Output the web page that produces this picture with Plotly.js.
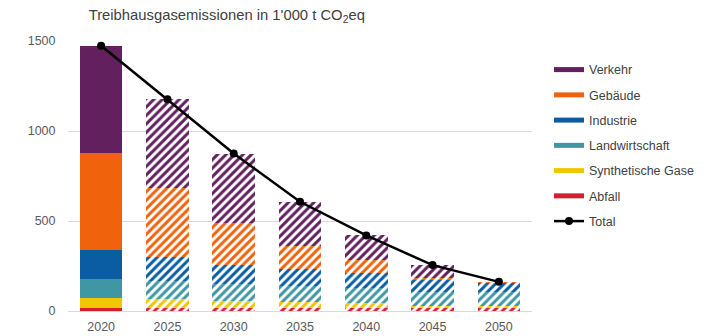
<!DOCTYPE html>
<html>
<head>
<meta charset="utf-8">
<script src="https://cdn.plot.ly/plotly-3.0.1.min.js"></script>
<style>
  html, body { margin: 0; padding: 0; background: #ffffff; }
  #chart { width: 718px; height: 336px; }
</style>
</head>
<body>
<div id="chart"></div>
<script>
// Greenhouse gas emissions by sector, in 1'000 t CO2eq
const years = ['2020', '2025', '2030', '2035', '2040', '2045', '2050'];

const abfall          = [18, 18, 18, 18, 18, 18, 18];
const synthetischeGase = [55, 50, 36, 31, 24, 11, 10];
const landwirtschaft  = [103, 97, 98, 92, 87, 76, 80];
const industrie       = [163, 133, 106, 93, 83, 70, 46];
const gebaeude        = [541, 387, 229, 125, 74, 10, 5];
const verkehr         = [594, 492, 388, 248, 134, 70, 3];
const total           = [1474, 1177, 875, 607, 420, 255, 162];

// stacked from the bottom up
const sectors = [
  { name: 'Abfall',            values: abfall,           color: '#d41f33' },
  { name: 'Synthetische Gase', values: synthetischeGase, color: '#efc600' },
  { name: 'Landwirtschaft',    values: landwirtschaft,   color: '#3f97a3' },
  { name: 'Industrie',         values: industrie,        color: '#0a5da3' },
  { name: 'Gebäude',           values: gebaeude,         color: '#f0630c' },
  { name: 'Verkehr',           values: verkehr,          color: '#62205f' }
];

// first year is measured (solid), later years are projections (hatched)
const shapes = years.map((y, i) => i === 0 ? '' : '/');

const traces = [];
sectors.forEach(s => {
  traces.push({
    type: 'bar',
    x: years,
    y: s.values,
    name: s.name,
    showlegend: false,
    marker: {
      color: s.color,
      line: { width: 0 },
      pattern: { shape: shapes, fgcolor: s.color, bgcolor: '#ffffff', size: 6, solidity: 0.5, fillmode: 'replace' }
    },
    hoverinfo: 'x+y+name'
  });
});

// legend entries drawn as thick strokes, top sector first
sectors.slice().reverse().forEach((s, k) => {
  traces.push({
    type: 'scatter',
    mode: 'lines',
    x: [null],
    y: [null],
    name: s.name,
    legendgroup: 'g' + k,
    line: { color: s.color, width: 5 },
    hoverinfo: 'skip'
  });
});

traces.push({
  type: 'scatter',
  mode: 'lines+markers',
  x: years,
  y: total,
  name: 'Total',
  legendgroup: 'gt',
  line: { color: '#000000', width: 2.5 },
  marker: { color: '#000000', size: 8 },
  cliponaxis: false
});

const layout = {
  width: 718,
  height: 336,
  margin: { l: 68, r: 186, t: 41, b: 24.5 },
  paper_bgcolor: '#ffffff',
  plot_bgcolor: '#ffffff',
  barmode: 'stack',
  bargap: 0.356,
  font: { family: 'Liberation Sans, Arial, sans-serif', color: '#595959', size: 12.5 },
  title: {
    text: "Treibhausgasemissionen in 1'000 t CO<sub>2</sub>eq",
    font: { size: 14.8, color: '#404040' },
    x: 32 / 718,
    xanchor: 'left',
    xref: 'paper',
    y: 1 - 15 / 336,
    yanchor: 'middle'
  },
  xaxis: {
    type: 'category',
    showgrid: false,
    showline: true,
    linecolor: '#d9d9d9',
    linewidth: 1,
    ticks: 'outside',
    ticklen: 4,
    tickcolor: 'rgba(0,0,0,0)',
    tickfont: { size: 12.5, color: '#595959' },
    fixedrange: true
  },
  yaxis: {
    range: [0, 1500],
    tickvals: [0, 500, 1000, 1500],
    showgrid: true,
    gridcolor: '#d9d9d9',
    gridwidth: 1,
    zeroline: false,
    showline: false,
    ticks: 'outside',
    ticklen: 9,
    tickcolor: 'rgba(0,0,0,0)',
    tickfont: { size: 12.5, color: '#595959' },
    fixedrange: true
  },
  legend: {
    x: (549 - 68) / 464,
    xanchor: 'left',
    y: (311.5 - 55) / 270.5,
    yanchor: 'top',
    traceorder: 'grouped',
    tracegroupgap: 6,
    itemwidth: 30,
    font: { size: 12.5, color: '#404040' },
    bgcolor: 'rgba(0,0,0,0)'
  },
  showlegend: true
};

Plotly.newPlot('chart', traces, layout, { displayModeBar: false, staticPlot: true });
</script>
</body>
</html>
